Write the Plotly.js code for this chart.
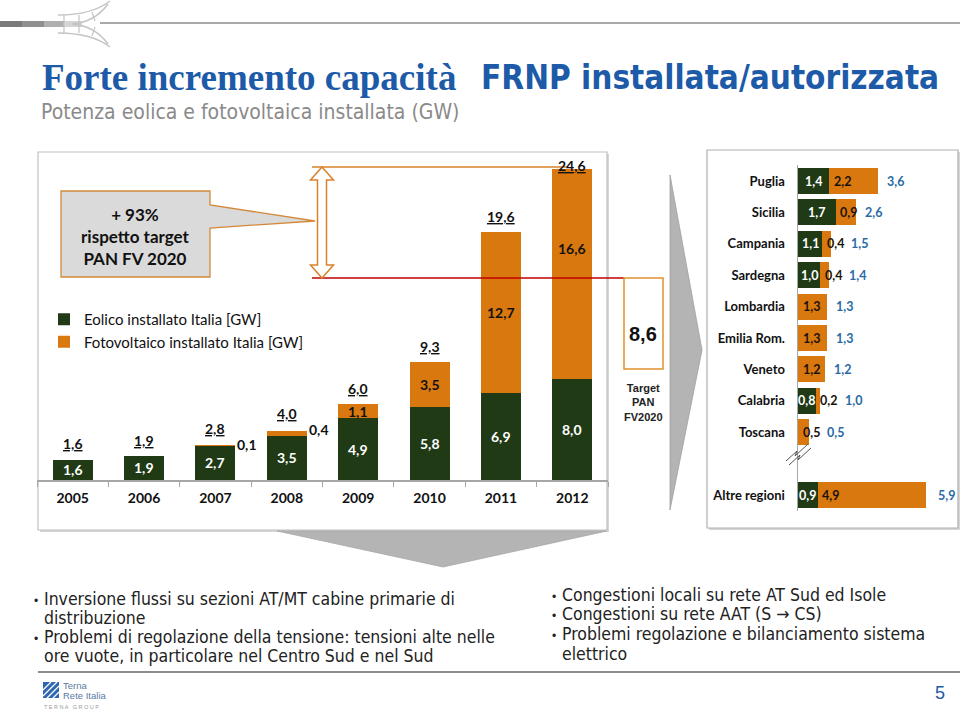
<!DOCTYPE html>
<html><head><meta charset="utf-8">
<script src="https://cdn.plot.ly/plotly-3.0.1.min.js"></script>
<style>html,body{margin:0;padding:0;background:#fff;}#chart{width:960px;height:713px;}</style>
</head><body><div id="chart"></div>
<script>
// ---- data ----
const years = ['2005','2006','2007','2008','2009','2010','2011','2012'];
const windIT = [1.6, 1.9, 2.7, 3.5, 4.9, 5.8, 6.9, 8.0];
const solarIT = [0, 0, 0.1, 0.4, 1.1, 3.5, 12.7, 16.6];
const totalIT = [1.6, 1.9, 2.8, 4.0, 6.0, 9.3, 19.6, 24.6];
const seriesNames = ['Eolico installato Italia [GW]', 'Fotovoltaico installato Italia [GW]'];
const targetPAN = 8.6;
const targetLabel = ['Target', 'PAN', 'FV2020'];
const calloutText = ['+ 93%', 'rispetto target', 'PAN FV 2020'];

const regions = ['Puglia','Sicilia','Campania','Sardegna','Lombardia','Emilia Rom.','Veneto','Calabria','Toscana','Altre regioni'];
const windReg = [1.4, 1.7, 1.1, 1.0, 0, 0, 0, 0.8, 0, 0.9];
const solarReg = [2.2, 0.9, 0.4, 0.4, 1.3, 1.3, 1.2, 0.2, 0.5, 4.9];
const totalReg = [3.6, 2.6, 1.5, 1.4, 1.3, 1.3, 1.2, 1.0, 0.5, 5.9];

const titleA = 'Forte incremento capacità';
const titleB = 'FRNP installata/autorizzata';
const subtitle = 'Potenza eolica e fotovoltaica installata (GW)';
const notesLeft = ['Inversione flussi su sezioni AT/MT cabine primarie di', 'distribuzione',
  'Problemi di regolazione della tensione: tensioni alte nelle', 'ore vuote, in particolare nel Centro Sud e nel Sud'];
const notesRight = ['Congestioni locali su rete AT Sud ed Isole', 'Congestioni su rete AAT (S \u2192 CS)',
  'Problemi regolazione e bilanciamento sistema', 'elettrico'];
const pageNum = '5';

// ---- helpers ----
const W = 960, H = 713;
const px = x => x / W, py = y => 1 - y / H;
const pp = (x, y) => px(x).toFixed(5) + ',' + py(y).toFixed(5);
const poly = (pts, close) => pts.map((p, i) => (i ? 'L' : 'M') + pp(p[0], p[1])).join(' ') + (close ? ' Z' : '');
const fmt = v => v.toFixed(1).replace('.', ',');

const GREEN = '#203a16', ORANGE = '#d9780f', BLUE = '#1d5aa8', TBLUE = '#2a6aa5';
const CAL = 'Lato, "Open Sans", sans-serif';
const ARIAL = '"Liberation Sans", Arial, sans-serif';
const NARROW = '"Liberation Sans Narrow", "DejaVu Sans Condensed", "Liberation Sans", sans-serif';
const SERIF = '"Liberation Serif", "Times New Roman", serif';

const yMaxL = 25.87;
const x2Max = 7.223, x2Px = 160;          // right panel: value range and its width in pixels
const pxPerUnit = x2Px / x2Max;
const rowIdx = regions.map((r, i) => i < regions.length - 1 ? i : i + 1);

// ---- traces ----
const traces = [
  {type: 'bar', x: years, y: windIT, name: seriesNames[0], marker: {color: GREEN}, width: 0.56,
   xaxis: 'x', yaxis: 'y', hoverinfo: 'skip'},
  {type: 'bar', x: years, y: solarIT, name: seriesNames[1], marker: {color: ORANGE}, width: 0.56,
   xaxis: 'x', yaxis: 'y', hoverinfo: 'skip'},
  {type: 'bar', orientation: 'h', y: rowIdx, x: windReg, marker: {color: GREEN}, width: 0.83,
   xaxis: 'x2', yaxis: 'y2', showlegend: false, hoverinfo: 'skip'},
  {type: 'bar', orientation: 'h', y: rowIdx, x: solarReg, marker: {color: ORANGE}, width: 0.83,
   xaxis: 'x2', yaxis: 'y2', showlegend: false, hoverinfo: 'skip'}
];

// ---- annotations ----
const ann = [];
const A = o => ann.push(Object.assign({showarrow: false, xanchor: 'center', yanchor: 'middle'}, o));
const bold = (size, color, family) => ({family: family || CAL, size: size, color: color || '#000', weight: 'bold'});

years.forEach((yr, i) => {
  A({xref: 'x', yref: 'y', x: i, y: windIT[i] / 2, text: fmt(windIT[i]), font: bold(14, '#fff')});
  if (solarIT[i] > 0) {
    if (solarIT[i] < 0.8) {
      A({xref: 'x', yref: 'y', x: i, y: totalIT[i], xshift: 32, text: fmt(solarIT[i]), font: bold(14, '#111')});
    } else {
      const last = i === years.length - 1;
      A({xref: 'x', yref: 'y', x: i, y: windIT[i] + solarIT[i] / 2, yshift: last ? 25 : 0,
         text: fmt(solarIT[i]), font: bold(14, '#111')});
    }
  }
  A({xref: 'x', yref: 'y', x: i, y: Math.min(totalIT[i] + 1.25, yMaxL - 0.97), text: '<u>' + fmt(totalIT[i]) + '</u>',
     font: bold(14, '#111')});
});

regions.forEach((r, i) => {
  const yv = rowIdx[i];
  if (windReg[i] > 0) A({xref: 'x2', yref: 'y2', x: windReg[i] / 2, y: yv, text: fmt(windReg[i]), font: bold(12.5, '#fff')});
  A({xref: 'x2', yref: 'y2', x: windReg[i], y: yv, xshift: 13, text: fmt(solarReg[i]), font: bold(12.5, '#1a1208')});
  const clear = windReg[i] * pxPerUnit + 13 + 9 + 5 - totalReg[i] * pxPerUnit;
  A({xref: 'x2', yref: 'y2', x: totalReg[i], y: yv, xshift: Math.max(7, clear), xanchor: 'left',
     text: fmt(totalReg[i]), font: bold(12.5, TBLUE)});
});

// callout & target
A({xref: 'paper', yref: 'paper', x: px(135), y: py(236), text: calloutText.join('<br>'), font: bold(17, '#111'), align: 'center'});
A({xref: 'paper', yref: 'paper', x: px(643), y: py(334), text: fmt(targetPAN), font: bold(20, '#111', ARIAL)});
A({xref: 'paper', yref: 'paper', x: px(643), y: py(403), text: targetLabel.join('<br>'), font: bold(11, '#222', ARIAL), align: 'center'});

// titles
A({xref: 'paper', yref: 'paper', x: px(40), y: py(77), xanchor: 'left', text: titleA,
   font: {family: SERIF, size: 37, color: BLUE, weight: 'bold'}});
A({xref: 'paper', yref: 'paper', x: px(479), y: py(77), xanchor: 'left', text: titleB,
   font: {family: NARROW, size: 33, color: BLUE, weight: 'bold'}});
A({xref: 'paper', yref: 'paper', x: px(39), y: py(112), xanchor: 'left', text: subtitle,
   font: {family: NARROW, size: 21, color: '#8a8a8a'}});

// bottom notes
const lyL = [599, 618, 637, 656], lyR = [595, 614, 634, 654];
notesLeft.forEach((t, i) => A({xref: 'paper', yref: 'paper', x: px(42), y: py(lyL[i]), xanchor: 'left',
  text: t, font: {family: NARROW, size: 17.5, color: '#222'}}));
notesRight.forEach((t, i) => A({xref: 'paper', yref: 'paper', x: px(560), y: py(lyR[i]), xanchor: 'left',
  text: t, font: {family: NARROW, size: 17.5, color: '#222'}}));
[lyL[0], lyL[2]].forEach(y => A({xref: 'paper', yref: 'paper', x: px(36), y: py(y + 2), text: '•', font: {family: ARIAL, size: 12, color: '#222'}}));
[lyR[0], lyR[1], lyR[2]].forEach(y => A({xref: 'paper', yref: 'paper', x: px(554), y: py(y + 2), text: '•', font: {family: ARIAL, size: 12, color: '#222'}}));

// logo text and page number
A({xref: 'paper', yref: 'paper', x: px(61), y: py(685), xanchor: 'left', text: 'Terna', font: {family: ARIAL, size: 9.5, color: '#5b7aa6'}});
A({xref: 'paper', yref: 'paper', x: px(61), y: py(695), xanchor: 'left', text: 'Rete Italia', font: {family: ARIAL, size: 9.5, color: '#5b7aa6'}});
A({xref: 'paper', yref: 'paper', x: px(42), y: py(707), xanchor: 'left', text: 'T E R N A &nbsp; G R O U P', font: {family: ARIAL, size: 5.5, color: '#999'}});
A({xref: 'paper', yref: 'paper', x: px(940), y: py(693), text: pageNum, font: {family: ARIAL, size: 18, color: BLUE}});

// ---- shapes ----
const S = [];
const rectP = (x0, y0, x1, y1, o) => S.push(Object.assign({type: 'rect', xref: 'paper', yref: 'paper', x0: px(x0), x1: px(x1), y0: py(y1), y1: py(y0)}, o));
const lineP = (x0, y0, x1, y1, o) => S.push(Object.assign({type: 'line', xref: 'paper', yref: 'paper', x0: px(x0), x1: px(x1), y0: py(y0), y1: py(y1)}, o));
const pathP = (d, o) => S.push(Object.assign({type: 'path', xref: 'paper', yref: 'paper', path: d}, o));

// top logo
[['#7a7a7a', 0, 22], ['#909090', 22, 44], ['#b0b0b0', 44, 64], ['#d4d4d4', 64, 82]].forEach(s =>
  lineP(s[1], 24, s[2], 24, {line: {color: s[0], width: 6}}));
lineP(100, 23, 960, 23, {line: {color: '#8c8c8c', width: 1.5}});
pathP('M' + pp(58, 15) + ' Q' + pp(92, 15) + ' ' + pp(110, 1), {line: {color: '#c4c4c4', width: 1.5}});
pathP('M' + pp(58, 33) + ' Q' + pp(92, 33) + ' ' + pp(110, 47), {line: {color: '#c4c4c4', width: 1.5}});
pathP('M' + pp(72, 24) + ' Q' + pp(95, 22) + ' ' + pp(108, 4), {line: {color: '#c4c4c4', width: 1.5}});
pathP('M' + pp(72, 24) + ' Q' + pp(95, 26) + ' ' + pp(108, 44), {line: {color: '#c4c4c4', width: 1.5}});
[[64, 15, 64, 33], [79, 15, 79, 33], [92, 12, 95, 21], [92, 36, 95, 27]].forEach(l =>
  lineP(l[0], l[1], l[2], l[3], {line: {color: '#c4c4c4', width: 1.2}}));

// boxes with shadow
rectP(40, 154, 609, 532, {fillcolor: '#d6d6d6', line: {width: 0}, layer: 'below'});
rectP(38, 152, 607, 530, {fillcolor: '#fff', line: {color: '#c0c0c0', width: 1.2}, layer: 'below'});
rectP(709, 152, 960, 530, {fillcolor: '#d6d6d6', line: {width: 0}, layer: 'below'});
rectP(707, 150, 958, 528, {fillcolor: '#fff', line: {color: '#b0b0b0', width: 1.2}, layer: 'below'});

// chevrons
pathP(poly([[670, 175], [702, 350], [670, 510]], true), {fillcolor: '#b4b4b4', line: {color: '#a0a0a0', width: 0.8}, layer: 'below'});
pathP(poly([[277, 531], [443, 567], [607, 531]], true), {fillcolor: '#b4b4b4', line: {color: '#a8a8a8', width: 0.8}, layer: 'below'});

// callout
pathP(poly([[61, 191], [210, 191], [210, 205], [315, 221], [210, 228], [210, 277], [61, 277]], true),
  {fillcolor: '#dadada', line: {color: '#d4893a', width: 1.3}, layer: 'below'});

// target lines and box
lineP(312, 167, 566, 167, {line: {color: '#d9822b', width: 1.5}, layer: 'below'});
lineP(312, 278, 624, 278, {line: {color: '#c00000', width: 1.5}});
rectP(624, 278, 663, 369, {fillcolor: 'rgba(0,0,0,0)', line: {color: '#e0912f', width: 1.5}});
pathP(poly([[322, 167], [333.5, 180], [326.5, 180], [326.5, 265], [333.5, 265], [322, 278], [310.5, 265],
  [317.5, 265], [317.5, 180], [310.5, 180]], true), {fillcolor: '#fff', line: {color: '#d9822b', width: 1.5}});

// axis break
pathP(poly([[786, 461], [797, 451], [795, 456], [808, 444]]), {line: {color: '#555', width: 1}});
pathP(poly([[789, 465], [800, 455], [798, 460], [811, 448]]), {line: {color: '#555', width: 1}});

// bottom rule and logo
lineP(38, 672, 960, 672, {line: {color: '#8c8c8c', width: 2}});
rectP(43, 682, 59, 698, {fillcolor: '#2f66b0', line: {width: 0}});
[[43, 690, 51, 682], [43, 696, 57, 682], [47, 698, 59, 686], [53, 698, 59, 692]].forEach(l =>
  lineP(l[0], l[1], l[2], l[3], {line: {color: '#fff', width: 1.2}}));

const layout = {
  width: W, height: H, margin: {l: 0, r: 0, t: 0, b: 0},
  paper_bgcolor: '#fff', plot_bgcolor: 'rgba(0,0,0,0)',
  barmode: 'stack', showlegend: true,
  legend: {x: px(44), y: py(303), xanchor: 'left', yanchor: 'top', traceorder: 'normal',
    font: {family: CAL, size: 15, color: '#111'}, bgcolor: 'rgba(0,0,0,0)'},
  xaxis: {domain: [px(37), px(608)], type: 'category', range: [-0.5, 7.5], autorange: false,
    showline: true, linecolor: '#a6a6a6', linewidth: 1.5,
    ticks: 'outside', tickson: 'boundaries', ticklen: 5, tickcolor: '#a6a6a6', tickangle: 0, ticklabelstandoff: 5,
    tickfont: {family: CAL, size: 14, color: '#111', weight: 'bold'}, showgrid: false, zeroline: false,
    fixedrange: true, anchor: 'y'},
  yaxis: {domain: [py(480), py(153)], range: [0, yMaxL], autorange: false, visible: false, fixedrange: true, anchor: 'x'},
  xaxis2: {domain: [px(798), px(798 + x2Px)], range: [0, x2Max], autorange: false, visible: false, fixedrange: true, anchor: 'y2'},
  yaxis2: {domain: [py(510.7), py(165.3)], range: [10.5, -0.5], autorange: false, tickvals: rowIdx, ticktext: regions,
    showline: true, linecolor: '#a6a6a6', linewidth: 1.5, ticks: 'outside', ticklen: 9, tickcolor: 'rgba(0,0,0,0)',
    tickfont: {family: CAL, size: 13, color: '#111', weight: 'bold'}, showgrid: false, zeroline: false,
    fixedrange: true, anchor: 'x2'},
  annotations: ann, shapes: S
};

Plotly.newPlot('chart', traces, layout, {displayModeBar: false, staticPlot: true});
</script></body></html>
